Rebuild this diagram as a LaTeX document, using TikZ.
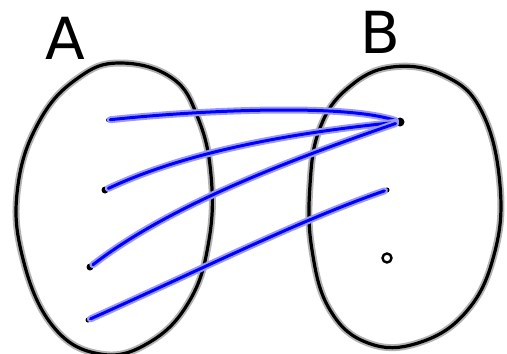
\documentclass[tikz,border=0pt]{standalone}
\usepackage{fontspec}
\setsansfont{DejaVu Sans}
\usetikzlibrary{positioning}

\begin{document}
\begin{tikzpicture}[x=1pt, y=-1pt,
        conjunto/.style={draw=black, line width=3.2pt, line join=round, preaction={draw=gray!60, line width=7pt}},
        flecha/.style={draw=blue, line width=3pt, line cap=round, preaction={draw=blue!40, line width=7pt, line cap=round}},
        punto/.style={circle, fill=black, inner sep=0pt, minimum size=7pt},
        letra/.style={font=\sffamily\fontsize{58}{58}\selectfont}]
        \useasboundingbox (0,0) rectangle (507,354);
        % conjuntos
        \draw[conjunto] plot[smooth cycle, tension=0.7] coordinates {(120,63) (172,78) (198,118) (211,175) (209,240) (190,300) (150,342) (100,354) (52,325) (22,255) (18,185) (40,120) (78,78)};
        \draw[conjunto] plot[smooth cycle, tension=0.7] coordinates {(392,67) (445,76) (482,112) (500,185) (494,255) (466,312) (418,343) (368,343) (330,310) (312,250) (310,185) (320,128) (348,88)};
        \node[letra] (A) at (65,38) {A};
        \node[letra] (B) at (380,32) {B};
        % elementos
        \node[punto, minimum size=4pt] (a1) at (108,120) {};
        \node[punto] (a2) at (105,190) {};
        \node[punto] (a3) at (90,267) {};
        \node[punto, minimum size=5pt] (a4) at (88,320) {};
        \node[punto, minimum size=9pt] (b1) at (400,122) {};
        \node[punto, minimum size=5pt] (b2) at (387,190) {};
        \node[circle, draw=black, line width=2.4pt, inner sep=0pt, minimum size=9pt] (b3) at (387,258) {};
        % relacion
        \draw[flecha] (a1) .. controls (180,112) and (340,102) .. (b1);
        \draw[flecha] (a2) .. controls (190,150) and (300,132) .. (b1);
        \draw[flecha] (a3) .. controls (170,205) and (290,160) .. (b1);
        \draw[flecha] (a4) .. controls (200,270) and (300,220) .. (b2);
    \end{tikzpicture}
\end{document}
